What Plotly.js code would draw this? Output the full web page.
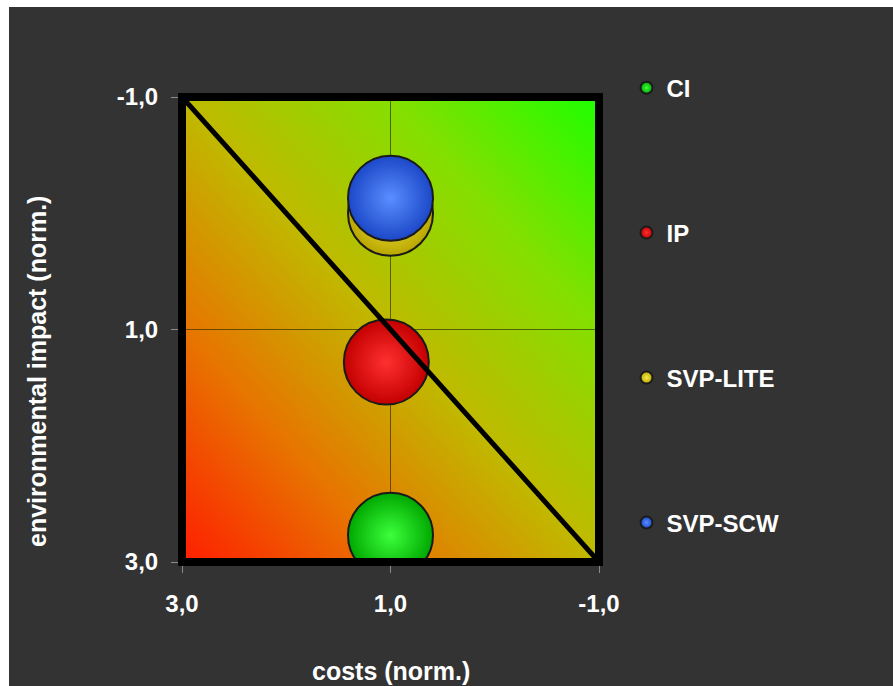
<!DOCTYPE html>
<html>
<head>
<meta charset="utf-8">
<script src="https://cdn.plot.ly/plotly-3.0.1.min.js"></script>
<style>
  html, body { margin: 0; padding: 0; background: #ffffff; }
  #chart { position: absolute; left: 9px; top: 7px; width: 884px; height: 679px; }
</style>
</head>
<body>
<div id="chart"></div>
<script>
// Technology options, placed by normalized costs and environmental impact
const technologies = ['CI', 'IP', 'SVP-LITE', 'SVP-SCW'];
const costs = [1.0, 1.04, 1.0, 1.0];
const impact = [2.77, 1.28, 0.0, -0.13];

// Axis ticks (decimal comma)
const tickValues = [3, 1, -1];
const tickLabels = ['3,0', '1,0', '-1,0'];

// Trade-off diagonal from the best corner to the worst corner
const diagonalCosts = [3, -1];
const diagonalImpact = [-1, 3];

// Sphere colours: edge tone and highlight tone for each technology
const edgeColors = ['#00a800', '#c40000', '#b9a600', '#1c48c8'];
const glowColors = ['#3cff3c', '#ff3030', '#f6e84a', '#5a8eff'];

const FONT = 'Liberation Sans, Arial, sans-serif';

// Diagonal colour wash behind the data: red (bad) to green (good)
function washImage() {
  const n = 300;
  const c = document.createElement('canvas');
  c.width = n; c.height = n;
  const g = c.getContext('2d');
  const grad = g.createLinearGradient(0, n, n, 0);
  grad.addColorStop(0.00, '#ff1e00');
  grad.addColorStop(0.25, '#e87400');
  grad.addColorStop(0.50, '#c0ba00');
  grad.addColorStop(0.75, '#84e000');
  grad.addColorStop(1.00, '#1eff00');
  g.fillStyle = grad;
  g.fillRect(0, 0, n, n);
  return c.toDataURL('image/png');
}

const legendNames = ['legend', 'legend2', 'legend3', 'legend4'];
const legendY = [1.019, 0.7075, 0.3957, 0.0839];

const traces = technologies.map((name, i) => ({
  type: 'scatter',
  mode: 'markers',
  name: name,
  x: [costs[i]],
  y: [impact[i]],
  legend: legendNames[i],
  cliponaxis: true,
  marker: {
    size: 85,
    color: edgeColors[i],
    gradient: { type: 'radial', color: glowColors[i] },
    line: { color: '#1a1a1a', width: 2 }
  },
  hoverinfo: 'name+x+y'
}));

traces.push({
  type: 'scatter',
  mode: 'lines',
  x: diagonalCosts,
  y: diagonalImpact,
  line: { color: '#000000', width: 5 },
  showlegend: false,
  hoverinfo: 'skip'
});

const legendBase = {
  x: 1.066,
  xanchor: 'left',
  yanchor: 'middle',
  bgcolor: 'rgba(0,0,0,0)',
  borderwidth: 0,
  itemsizing: 'constant',
  font: { family: FONT, size: 24, color: '#ffffff', weight: 'bold' }
};

const axisBase = {
  tickmode: 'array',
  tickvals: tickValues,
  ticktext: tickLabels,
  ticks: 'outside',
  ticklen: 10,
  tickwidth: 1,
  tickcolor: '#8a8a8a',
  showgrid: true,
  gridcolor: 'rgba(40,40,0,0.65)',
  gridwidth: 1,
  zeroline: false,
  showline: false,
  tickfont: { family: FONT, size: 24, color: '#ffffff', weight: 'bold' },
  fixedrange: true
};

const layout = {
  width: 884,
  height: 679,
  paper_bgcolor: '#333333',
  plot_bgcolor: '#333333',
  margin: { l: 173, r: 294, t: 90, b: 124 },
  showlegend: true,
  xaxis: Object.assign({}, axisBase, { range: [3, -1], ticklabelstandoff: 10 }),
  yaxis: Object.assign({}, axisBase, { range: [3, -1], ticklabelstandoff: 8 }),
  images: [{
    source: washImage(),
    xref: 'paper', yref: 'paper',
    x: 0, y: 1, sizex: 1, sizey: 1,
    xanchor: 'left', yanchor: 'top',
    sizing: 'stretch',
    layer: 'below'
  }],
  shapes: [{
    type: 'rect',
    xref: 'paper', yref: 'paper',
    x0: 0, x1: 1, y0: 0, y1: 1,
    line: { color: '#000000', width: 8 },
    fillcolor: 'rgba(0,0,0,0)',
    layer: 'above'
  }],
  annotations: [
    {
      text: 'costs (norm.)',
      xref: 'paper', yref: 'paper',
      x: 0.5, y: -0.2344,
      xanchor: 'center', yanchor: 'middle',
      showarrow: false,
      font: { family: FONT, size: 25, color: '#ffffff', weight: 'bold' }
    },
    {
      text: 'environmental impact (norm.)',
      xref: 'paper', yref: 'paper',
      x: -0.3477, y: 0.4086,
      xanchor: 'center', yanchor: 'middle',
      textangle: -90,
      showarrow: false,
      font: { family: FONT, size: 25, color: '#ffffff', weight: 'bold' }
    }
  ]
};

legendNames.forEach((key, i) => {
  layout[key] = Object.assign({}, legendBase, { y: legendY[i] });
});

Plotly.newPlot('chart', traces, layout, { displayModeBar: false, staticPlot: true });
</script>
</body>
</html>
